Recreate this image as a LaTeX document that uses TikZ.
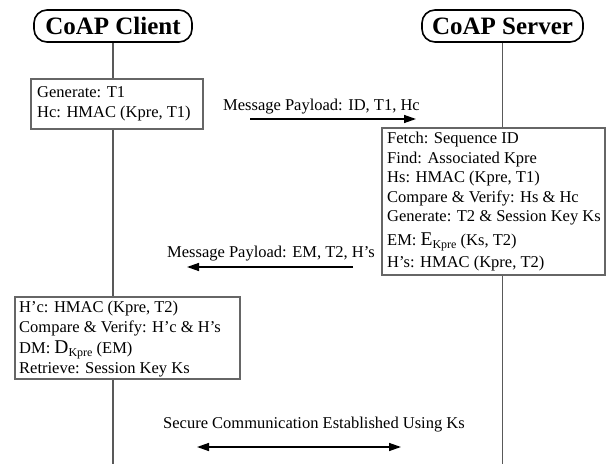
\documentclass[tikz,border=0pt]{standalone}
\usepackage{fontspec}
\setmainfont{Liberation Serif}
\usetikzlibrary{arrows.meta}
\newcommand\myKsub{\raisebox{-3.5pt}{\fontsize{12}{12}\selectfont Kpre}}
\newcommand\myBig[1]{{\fontsize{19.5}{19.5}\selectfont #1}}
\begin{document}
\begin{tikzpicture}[x=1pt,y=-1pt,
  title/.style={draw=black, line width=1.6pt, rounded corners=13pt, fill=white,
    minimum height=32pt, inner sep=0pt, font=\fontsize{25}{25}\selectfont\bfseries},
  lifeline/.style={draw=black!65, line width=1.2pt},
  stepbox/.style={draw=black!60, line width=1.2pt, fill=white, inner sep=0pt},
  txt/.style={anchor=base west, inner sep=0pt, font=\fontsize{16.5}{18}\selectfont},
  msg/.style={draw=black, line width=1.4pt, -{Triangle[length=12pt,width=8pt]}},
  dmsg/.style={draw=black, line width=1.4pt, {Triangle[length=12pt,width=8pt]}-{Triangle[length=12pt,width=8pt]}},
]
\useasboundingbox (0,0) rectangle (606,464);

% titles
\node[title, minimum width=158pt] (client) at (113,26) {CoAP Client};
\node[title, minimum width=161pt] (server) at (502.5,26) {CoAP Server};

% lifelines
\coordinate (cbot) at (113,464);
\coordinate (sbot) at (502.5,464);
\draw[lifeline] (client.south) -- (cbot);
\draw[lifeline] (server.south) -- (sbot);

% boxes
\node[stepbox, minimum width=172pt, minimum height=50pt] (b1) at (117,104) {};
\node[stepbox, minimum width=223pt, minimum height=147pt] (sb) at (493.5,201.5) {};
\node[stepbox, minimum width=225pt, minimum height=82pt] (b2) at (127.5,338) {};

% client box 1 text
\node[txt] (b1l1) at (37,97) {Generate: T1};
\node[txt] (b1l2) at (37,117) {Hc: HMAC (Kpre, T1)};

% server box text
\node[txt] (s1) at (387,143) {Fetch: Sequence ID};
\node[txt] (s2) at (387,163) {Find: Associated Kpre};
\node[txt] (s3) at (387,182.5) {Hs: HMAC (Kpre, T1)};
\node[txt] (s4) at (387,202) {Compare \& Verify: Hs \& Hc};
\node[txt] (s5) at (387,221.5) {Generate: T2 \& Session Key Ks};
\node[txt] (s6) at (387,245) {EM: \myBig{E}\myKsub\ (Ks, T2)};
\node[txt] (s7) at (387,267) {H\textquoteright s: HMAC (Kpre, T2)};

% client box 2 text
\node[txt] (c1) at (19,312) {H\textquoteright c: HMAC (Kpre, T2)};
\node[txt] (c2) at (19,332) {Compare \& Verify: H\textquoteright c \& H\textquoteright s};
\node[txt] (c3) at (19,353) {DM: \myBig{D}\myKsub\ (EM)};
\node[txt] (c4) at (19,373) {Retrieve: Session Key Ks};

% messages
\coordinate (a1s) at (250,119);
\coordinate (a1e) at (416,119);
\draw[msg] (a1s) -- (a1e);
\node[txt] (m1) at (223,110) {Message Payload: ID, T1, Hc};

\coordinate (a2s) at (353,267);
\coordinate (a2e) at (187,267);
\draw[msg] (a2s) -- (a2e);
\node[txt] (m2) at (167,257) {Message Payload: EM, T2, H\textquoteright s};

\coordinate (a3s) at (197,447);
\coordinate (a3e) at (401,447);
\draw[dmsg] (a3s) -- (a3e);
\node[txt] (m3) at (163,428) {Secure Communication Established Using Ks};
\end{tikzpicture}
\end{document}
